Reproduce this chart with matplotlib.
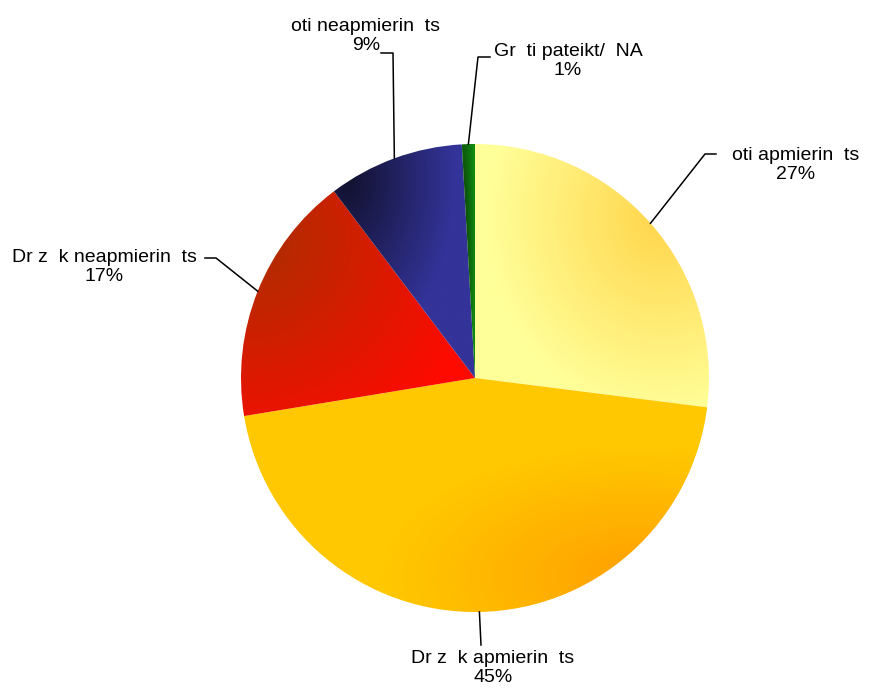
import numpy as np
import matplotlib.pyplot as plt
from matplotlib.colors import to_rgb

# data (clockwise from 12 o'clock)
labels = ['oti apmierin  ts', 'Dr z  k apmierin  ts', 'Dr z  k neapmierin  ts',
          'oti neapmierin  ts', 'Gr  ti pateikt/  NA']
values = [27.0, 45.4, 17.3, 9.4, 0.9]
pct_labels = ['27%', '45%', '17%', '9%', '1%']

# gradient per slice: dark colour, light colour, dark spot (bbox fraction), falloff radius
grads = [
    ('#FFD54A', '#FFFF99', (0.80, 0.72), 0.75),
    ('#FFA000', '#FFC800', (0.85, 0.15), 0.55),
    ('#A83000', '#FF0A00', (0.02, 0.80), 1.05),
    ('#121230', '#333399', (0.10, 0.85), 0.75),
    ('#0A300A', '#109010', (0.00, 0.50), 1.00),
]

# layout in pixels (y measured upwards): text centre, leader elbow, leader end
W, H = 870, 690
CX, CY, R = 475, 312, 234
label_pos = [(796, 525), (493, 22), (104, 423), (366, 654), (568, 629)]
elbows = [(705, 536), (481, 45), (216, 432), (393, 637), (478, 633)]
ends = [(716, 536), (481, 45), (205, 432), (381, 637), (490, 633)]


def fill_gradient(ax, wedge, dark, light, spot, rad):
    ext = wedge.get_path().get_extents()
    x0, y0, x1, y1 = ext.x0, ext.y0, ext.x1, ext.y1
    n = 300
    gx, gy = np.meshgrid(np.linspace(0, 1, n), np.linspace(0, 1, n))
    t = np.clip(np.hypot(gx - spot[0], gy - spot[1]) / rad, 0, 1)[..., None]
    img = np.array(to_rgb(dark)) * (1 - t) + np.array(to_rgb(light)) * t
    im = ax.imshow(img, origin='lower', extent=(x0, x1, y0, y1),
                   interpolation='bilinear', zorder=1, aspect='auto')
    im.set_clip_path(wedge)


fig = plt.figure(figsize=(8.7, 6.9), dpi=100)
ax = fig.add_axes([0, 0, 1, 1])
plt.rcParams['font.family'] = ['Liberation Sans', 'DejaVu Sans']

wedges, _ = ax.pie(values, startangle=90, counterclock=False, radius=R,
                   center=(CX, CY), wedgeprops=dict(facecolor='none', edgecolor='none'))

for w, g in zip(wedges, grads):
    fill_gradient(ax, w, *g)

for i, w in enumerate(wedges):
    mid = np.deg2rad((w.theta1 + w.theta2) / 2)
    px = CX + R * np.cos(mid)
    py = CY + R * np.sin(mid)
    ax.plot([px, elbows[i][0], ends[i][0]], [py, elbows[i][1], ends[i][1]],
            color='black', lw=1.1, zorder=3)
    tx, ty = label_pos[i]
    ax.text(tx, ty, labels[i] + '\n' + pct_labels[i], ha='center', va='center',
            fontsize=14, linespacing=1.15, color='black', zorder=4)

ax.set_xlim(0, W)
ax.set_ylim(0, H)
ax.set_aspect('equal')
ax.axis('off')

fig.savefig('out.png', dpi=100, facecolor='white')
